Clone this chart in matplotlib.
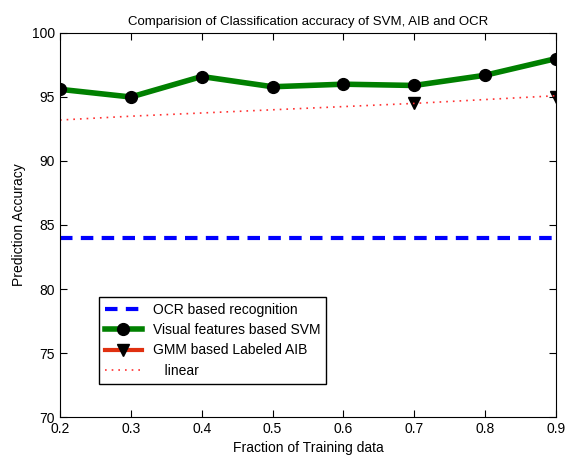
import numpy as np
import matplotlib
matplotlib.use("Agg")
import matplotlib.pyplot as plt

plt.rcParams['font.family'] = ['Liberation Sans', 'DejaVu Sans']

# data
fractions = [0.2, 0.3, 0.4, 0.5, 0.6, 0.7, 0.8, 0.9]
ocr_acc = [84, 84, 84, 84, 84, 84, 84, 84]
svm_acc = [95.6, 95.0, 96.6, 95.8, 96.0, 95.9, 96.7, 98.0]
aib_acc = [np.nan, np.nan, np.nan, np.nan, np.nan, 94.5, np.nan, 95.0]
linear_acc = [93.2, 93.5, 93.75, 94.0, 94.25, 94.5, 94.8, 95.1]

fig = plt.figure(figsize=(5.68, 4.55), dpi=100)
ax = fig.add_axes([0.1056, 0.0835, 0.8734, 0.844])

ax.plot(fractions, ocr_acc, color='#0000ff', linestyle=(0, (3, 2)), linewidth=3,
        label='OCR based recognition')
ax.plot(fractions, svm_acc, color='#008000', linewidth=4, marker='o',
        markersize=8.5, markerfacecolor='black', markeredgecolor='black',
        label='Visual features based SVM')
ax.plot(fractions, aib_acc, color='#e03010', linewidth=3, marker='v',
        markersize=8.5, markerfacecolor='black', markeredgecolor='black',
        label='GMM based Labeled AIB')
ax.plot(fractions, linear_acc, color='#ff3030', linestyle=(0, (1, 3)),
        linewidth=1.2, label='   linear')

ax.set_xlim(0.2, 0.9)
ax.set_ylim(70, 100)
ax.set_xticks(fractions)
ax.set_yticks(range(70, 101, 5))
ax.tick_params(direction='in', top=True, right=True, labelsize=10, length=5)
ax.set_xlabel('Fraction of Training data', fontsize=10)
ax.set_ylabel('Prediction Accuracy', fontsize=10)
ax.set_title('Comparision of Classification accuracy of SVM, AIB and OCR', fontsize=9.5)

leg = ax.legend(loc='lower left', bbox_to_anchor=(0.065, 0.068), numpoints=1,
                fontsize=10, fancybox=False, edgecolor='black', framealpha=1,
                handlelength=2.6, borderpad=0.45, labelspacing=0.45)
leg.get_frame().set_linewidth(1.0)

fig.savefig('out.png', dpi=100)
